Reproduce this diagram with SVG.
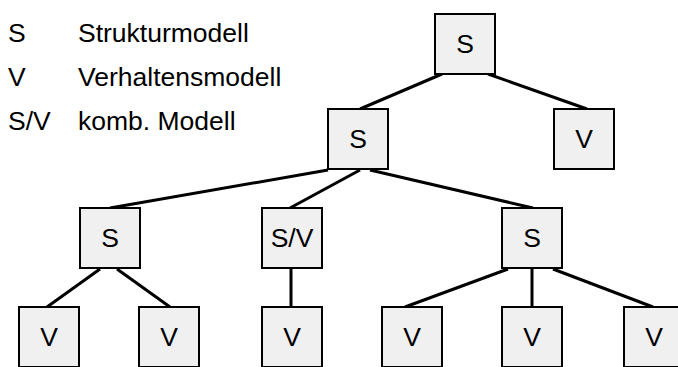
<svg xmlns="http://www.w3.org/2000/svg" width="678" height="367" viewBox="0 0 678 367">
<style>
text{font-family:"Liberation Sans",Arial,sans-serif;font-size:26.5px;fill:#000}
.n rect{fill:#f0f0f0;stroke:#000;stroke-width:2}
.n text{text-anchor:middle}
#connectors line{stroke:#000;stroke-width:3;stroke-linecap:butt}
</style>
<g id="legend">
<text x="8" y="42">S</text><text x="78" y="42">Strukturmodell</text>
<text x="8" y="86">V</text><text x="78" y="86">Verhaltensmodell</text>
<text x="8" y="130">S/V</text><text x="78" y="130">komb. Modell</text>
</g>
<g id="connectors">
<line x1="442" y1="74" x2="360" y2="109"/>
<line x1="488" y1="74" x2="587" y2="109"/>
<line x1="328" y1="170" x2="110" y2="208"/>
<line x1="360" y1="170" x2="290" y2="208"/>
<line x1="370" y1="170" x2="533" y2="208"/>
<line x1="100" y1="269" x2="47" y2="307"/>
<line x1="117" y1="269" x2="170" y2="307"/>
<line x1="291" y1="269" x2="291" y2="307"/>
<line x1="508" y1="269" x2="405" y2="307"/>
<line x1="532" y1="269" x2="532" y2="307"/>
<line x1="553" y1="269" x2="653" y2="307"/>
</g>
<g id="root" class="n"><rect x="435" y="14" width="60" height="60"/><text x="465" y="53">S</text></g>
<g id="s2" class="n"><rect x="328" y="109" width="60" height="60"/><text x="358" y="148">S</text></g>
<g id="v2" class="n"><rect x="554" y="109" width="60" height="60"/><text x="584" y="148">V</text></g>
<g id="s3a" class="n"><rect x="80" y="208" width="60" height="60"/><text x="110" y="247">S</text></g>
<g id="sv3" class="n"><rect x="262" y="208" width="60" height="60"/><text x="292" y="247">S/V</text></g>
<g id="s3c" class="n"><rect x="502" y="208" width="60" height="60"/><text x="532" y="247">S</text></g>
<g id="v4a" class="n"><rect x="19" y="307" width="60" height="60"/><text x="49" y="346">V</text></g>
<g id="v4b" class="n"><rect x="139" y="307" width="60" height="60"/><text x="169" y="346">V</text></g>
<g id="v4c" class="n"><rect x="262" y="307" width="60" height="60"/><text x="292" y="346">V</text></g>
<g id="v4d" class="n"><rect x="382" y="307" width="60" height="60"/><text x="412" y="346">V</text></g>
<g id="v4e" class="n"><rect x="502" y="307" width="60" height="60"/><text x="532" y="346">V</text></g>
<g id="v4f" class="n"><rect x="624" y="307" width="60" height="60"/><text x="654" y="346">V</text></g>
</svg>
